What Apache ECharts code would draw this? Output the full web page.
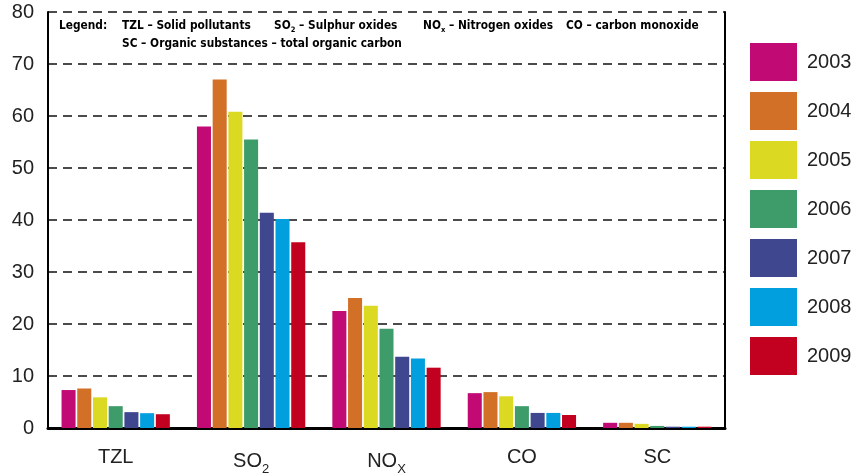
<!DOCTYPE html>
<html><head><meta charset="utf-8">
<script src="https://cdn.jsdelivr.net/npm/echarts@6/dist/echarts.min.js"></script>
<style>html,body{margin:0;padding:0;background:#fff}#c{width:854px;height:476px}</style>
</head><body><div id="c"></div>
<script>
const categories = ['TZL', 'SO2', 'NOX', 'CO', 'SC'];
const years = ['2003', '2004', '2005', '2006', '2007', '2008', '2009'];
const v2003 = [7.3, 58.0, 22.5, 6.7, 1.0];
const v2004 = [7.6, 67.0, 25.0, 6.9, 1.0];
const v2005 = [5.9, 60.8, 23.5, 6.1, 0.8];
const v2006 = [4.2, 55.5, 19.1, 4.2, 0.4];
const v2007 = [3.05, 41.4, 13.7, 2.9, 0.25];
const v2008 = [2.85, 40.2, 13.35, 2.9, 0.25];
const v2009 = [2.65, 35.7, 11.6, 2.5, 0.25];
const yTicks = [0, 10, 20, 30, 40, 50, 60, 70, 80];
const colors = ['#c20a74', '#d27027', '#dcd922', '#3e9b6a', '#3f488f', '#029fdf', '#c2001f'];
const seriesValues = [v2003, v2004, v2005, v2006, v2007, v2008, v2009];
const legendLine1 = [
  {x: 59, t: '{b|Legend:}'},
  {x: 122, t: '{b|TZL – Solid pollutants}'},
  {x: 274, t: '{b|SO}{s|2}{b| – Sulphur oxides}'},
  {x: 423, t: '{b|NO}{s|x}{b| – Nitrogen oxides}'},
  {x: 566, t: '{b|CO – carbon monoxide}'}
];
const legendLine2 = '{b|SC – Organic substances – total organic carbon}';

const FONT = '"DejaVu Sans Condensed", "Liberation Sans", Arial, sans-serif';
const richSmall = {
  b: {fontFamily: FONT, fontWeight: 'bold', fontSize: 11.8, color: '#111'},
  s: {fontFamily: FONT, fontWeight: 'bold', fontSize: 7.5, color: '#111', padding: [9, 0, 0, 0]}
};
const chart = echarts.init(document.getElementById('c'));
const graphics = legendLine1.map(o => ({
  type: 'text', left: o.x, top: 20,
  style: {text: o.t, rich: richSmall}
}));
graphics.push({type: 'text', left: 122, top: 38, style: {text: legendLine2, rich: richSmall}});

const AXFONT = '"Liberation Sans", Arial, sans-serif';
chart.setOption({
  animation: false,
  backgroundColor: '#fff',
  grid: {left: 48, right: 129, top: 12, bottom: 44},
  legend: {
    orient: 'vertical', left: 745, top: 38,
    itemWidth: 47, itemHeight: 38, itemGap: 11,
    icon: 'rect',
    data: years,
    textStyle: {fontFamily: AXFONT, fontSize: 20, color: '#222', padding: [0, 0, 0, 5]}
  },
  xAxis: {
    type: 'category', data: categories,
    axisLine: {lineStyle: {color: '#000', width: 3}},
    axisTick: {inside: true, length: 9, lineStyle: {color: '#000', width: 2}},
    axisLabel: {
      margin: 19,
      formatter: function (v) {
        if (v === 'SO2') return '{n|SO}{s|2}';
        if (v === 'NOX') return '{n|NO}{s|X}';
        return '{n|' + v + '}';
      },
      rich: {
        n: {fontFamily: AXFONT, fontSize: 20, color: '#222'},
        s: {fontFamily: AXFONT, fontSize: 13, color: '#222', padding: [16, 0, 0, 0]}
      }
    },
    splitLine: {show: false}
  },
  yAxis: [{
    type: 'value', min: yTicks[0], max: yTicks[yTicks.length - 1], interval: 10,
    axisLine: {show: true, lineStyle: {color: '#000', width: 2}},
    axisTick: {show: false},
    axisLabel: {fontFamily: AXFONT, fontSize: 20, color: '#222', margin: 14},
    splitLine: {show: true, lineStyle: {color: '#111', width: 1.5, type: [9, 6]}}
  }, {
    type: 'value', min: yTicks[0], max: yTicks[yTicks.length - 1], interval: 10, position: 'right',
    axisLine: {show: true, lineStyle: {color: '#000', width: 2}},
    axisTick: {show: false}, axisLabel: {show: false}, splitLine: {show: false}
  }],
  graphic: graphics,
  series: years.map((y, i) => ({
    name: y, type: 'bar', data: seriesValues[i],
    itemStyle: {color: colors[i]},
    barGap: '12%', barCategoryGap: '20%'
  }))
});
</script></body></html>
